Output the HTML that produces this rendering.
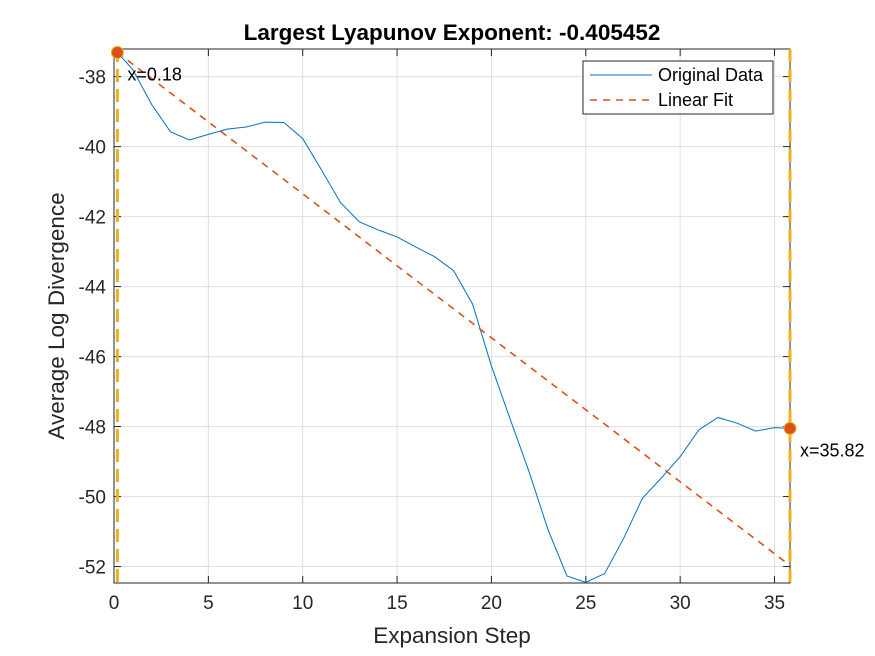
<!DOCTYPE html>
<html><head><meta charset="utf-8"><style>
body{margin:0;background:#fff;}
svg{display:block;font-family:"Liberation Sans",Arial,sans-serif;}
</style></head><body>
<svg id="chart" width="875" height="656" viewBox="0 0 875 656">
<rect width="875" height="656" fill="#fff"/>
<g id="grid"></g>
<rect x="114" y="49" width="676" height="534" fill="none" stroke="#262626" stroke-width="1"/>
<g id="ticks"></g>
<g id="marks"></g>
<text x="452" y="40" text-anchor="middle" font-size="22.5" font-weight="bold" fill="#000">Largest Lyapunov Exponent: -0.405452</text>
<text x="452" y="643" text-anchor="middle" font-size="22.5" fill="#262626">Expansion Step</text>
<text transform="translate(64,316) rotate(-90)" text-anchor="middle" font-size="22.5" fill="#262626">Average Log Divergence</text>
<g>
<rect x="583" y="61" width="190" height="53" fill="#fff" stroke="#262626" stroke-width="1"/>
<line x1="590" y1="75" x2="652" y2="75" stroke="#0072BD" stroke-width="1"/>
<text x="658" y="81" font-size="18" fill="#000">Original Data</text>
<line x1="590" y1="100" x2="652" y2="100" stroke="#D95319" stroke-width="1.6" stroke-dasharray="7,6"/>
<text x="658" y="106" font-size="18" fill="#000">Linear Fit</text>
</g>
</svg>
<script>
const steps=[0.18,1,2,3,4,5,6,7,8,9,10,11,12,13,14,15,16,17,18,19,20,21,22,23,24,25,26,27,28,29,30,31,32,33,34,35,35.82];
const divergence=[-37.31,-37.8,-38.8,-39.58,-39.81,-39.65,-39.5,-39.44,-39.3,-39.31,-39.77,-40.67,-41.6,-42.15,-42.38,-42.58,-42.87,-43.15,-43.55,-44.5,-46.27,-47.8,-49.3,-50.95,-52.27,-52.45,-52.2,-51.2,-50.05,-49.47,-48.86,-48.09,-47.74,-47.9,-48.13,-48.03,-48.05];
const fitX=[0.18,35.82];
const fitY=[-37.31,-51.97];
const xTicks=[0,5,10,15,20,25,30,35];
const yTicks=[-38,-40,-42,-44,-46,-48,-50,-52];
const xMin=0,xMax=35.82,yMin=-52.47,yMax=-37.21;
const L=114,R=790,T=49,B=583;
const sx=v=>L+(v-xMin)/(xMax-xMin)*(R-L);
const sy=v=>B-(v-yMin)/(yMax-yMin)*(B-T);
const NS="http://www.w3.org/2000/svg";
function mk(tag,attrs,parent){const e=document.createElementNS(NS,tag);for(const k in attrs)e.setAttribute(k,attrs[k]);parent.appendChild(e);return e;}
const grid=document.getElementById('grid'),ticks=document.getElementById('ticks'),marks=document.getElementById('marks');
xTicks.forEach(t=>{
 const x=sx(t);
 const g=mk('line',{x1:x,y1:T,x2:x,y2:B,stroke:'#dfdfdf','stroke-width':1},grid);
 
 
 const tk=mk('line',{x1:x,y1:B,x2:x,y2:B-7,stroke:'#262626'},ticks);
 
 
 const tk2=mk('line',{x1:x,y1:T,x2:x,y2:T+7,stroke:'#262626'},ticks);
 
 
 const lb=mk('text',{x:x,y:B+26,'text-anchor':'middle','font-size':19,fill:'#262626'},ticks);
 lb.textContent=t;
 
 
});
yTicks.forEach(t=>{
 const y=sy(t);
 const g=mk('line',{x1:L,y1:y,x2:R,y2:y,stroke:'#dfdfdf','stroke-width':1},grid);
 
 
 const tk=mk('line',{x1:L,y1:y,x2:L+7,y2:y,stroke:'#262626'},ticks);
 
 
 const tk2=mk('line',{x1:R,y1:y,x2:R-7,y2:y,stroke:'#262626'},ticks);
 
 
 const lb=mk('text',{x:L-8,y:y+7,'text-anchor':'end','font-size':19,fill:'#262626'},ticks);
 lb.textContent=t;
 
 
});
fitX.forEach((v,i)=>{
 const vl=mk('line',{x1:sx(v),y1:T,x2:sx(v),y2:B,stroke:'#EDB120','stroke-width':3,'stroke-dasharray':'13,7'},marks);
 
 
});
const pts=steps.map((s,i)=>sx(s)+','+sy(divergence[i])).join(' ');
const pl=mk('polyline',{points:pts,fill:'none',stroke:'#0072BD','stroke-width':1},marks);


const fl=mk('line',{x1:sx(fitX[0]),y1:sy(fitY[0]),x2:sx(fitX[1]),y2:sy(fitY[1]),stroke:'#D95319','stroke-width':1.6,'stroke-dasharray':'7,6'},marks);


const endIdx=[0,steps.length-1];
endIdx.forEach((k,i)=>{
 const c=mk('circle',{cx:sx(steps[k]),cy:sy(divergence[k]),r:6,fill:'#D95319',stroke:'#EDB120','stroke-width':1},marks);
 
 
 const t=mk('text',{x:sx(steps[k])+10,y:sy(divergence[k])+28,'font-size':18,fill:'#000'},marks);
 t.textContent='x='+steps[k];
 
 
});
</script>
</body></html>
